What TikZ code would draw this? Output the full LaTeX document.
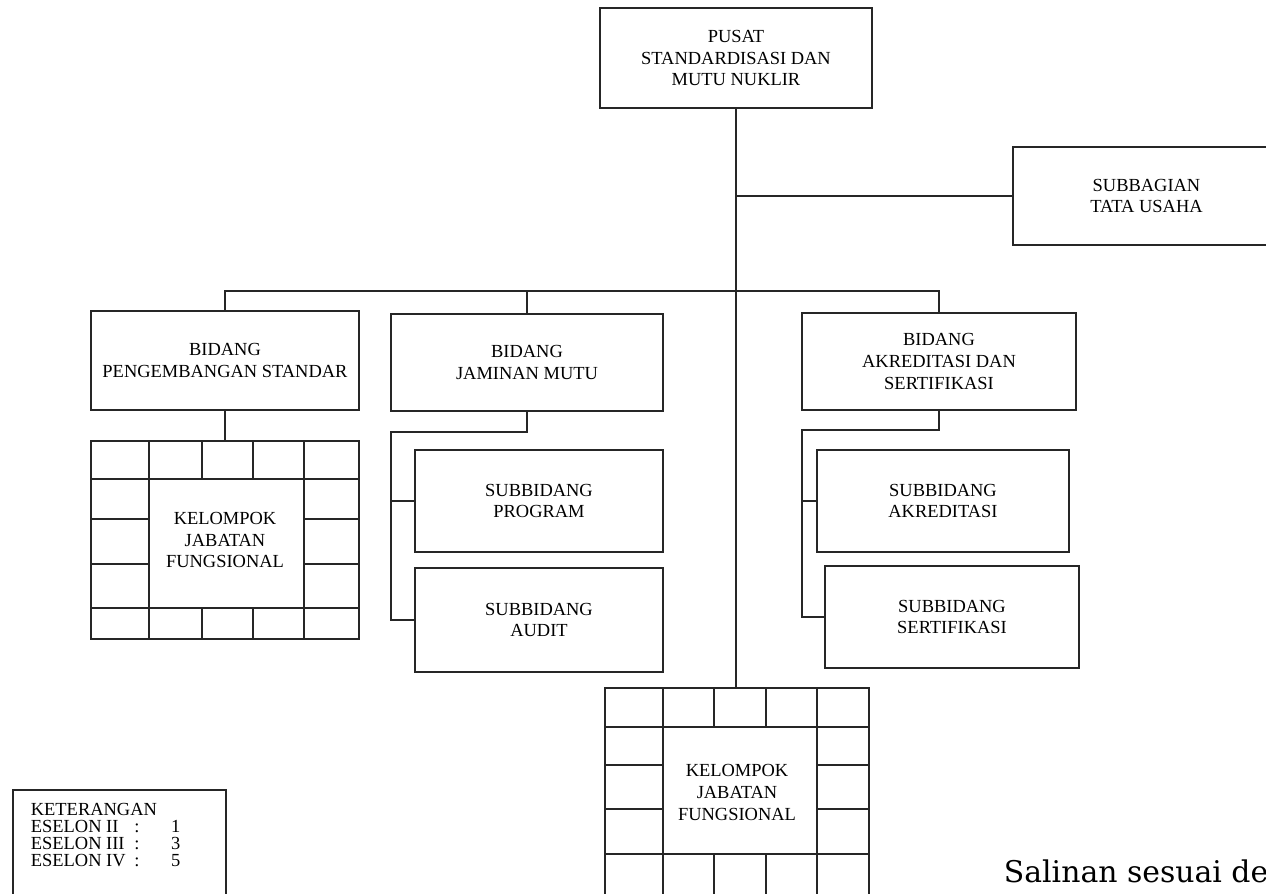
\documentclass[tikz,border=0pt]{standalone}
\usepackage{fontspec}
\setmainfont{Liberation Serif}
\newfontfamily\salinanfont{DejaVu Serif}

\begin{document}
\begin{tikzpicture}[x=0.02cm,y=-0.02cm,line width=1pt,draw=black!85,
  unit/.style={draw,align=center,inner sep=0pt,font=\fontsize{10.5}{12.3}\selectfont},
  wh/.style 2 args={minimum width=#1*0.02cm,minimum height=#2*0.02cm}]
\useasboundingbox (0,0) rectangle (1266,893);
\clip (0,0) rectangle (1266,893);

\node[unit,wh={272}{100}] (pusat) at (736,58) {PUSAT\\STANDARDISASI DAN\\MUTU NUKLIR};
\node[unit,wh={267}{98}] (subbag) at (1146.5,196) {SUBBAGIAN\\TATA USAHA};
\node[unit,wh={268}{99}] (bps) at (225,360.5) {BIDANG\\PENGEMBANGAN STANDAR};
\node[unit,wh={272}{97}] (bjm) at (527,362.5) {BIDANG\\JAMINAN MUTU};
\node[unit,wh={274}{97}] (bas) at (939,361.5) {BIDANG\\AKREDITASI DAN\\SERTIFIKASI};
\node[unit,wh={248}{102}] (prog) at (539,501) {SUBBIDANG\\PROGRAM};
\node[unit,wh={248}{104}] (audit) at (539,620) {SUBBIDANG\\AUDIT};
\node[unit,wh={252}{102}] (akr) at (943,501) {SUBBIDANG\\AKREDITASI};
\node[unit,wh={254}{102}] (sert) at (952,617) {SUBBIDANG\\SERTIFIKASI};
\node[unit,wh={268}{198}] (kelL) at (225,540) {KELOMPOK\\JABATAN\\FUNGSIONAL};
\node[unit,wh={264}{209}] (kelB) at (737,792.5) {KELOMPOK\\JABATAN\\FUNGSIONAL};

\foreach \x in {149,202,253,304} \draw (\x,441) -- (\x,479) (\x,608) -- (\x,639);
\draw (91,479) -- (359,479) (91,608) -- (359,608);
\draw (149,479) -- (149,608) (304,479) -- (304,608);
\foreach \y in {519,564} \draw (91,\y) -- (149,\y) (304,\y) -- (359,\y);

\foreach \x in {663,714,766,817} \draw (\x,688) -- (\x,727) (\x,854) -- (\x,897);
\draw (605,727) -- (869,727) (605,854) -- (869,854);
\draw (663,727) -- (663,854) (817,727) -- (817,854);
\foreach \y in {765,809} \draw (605,\y) -- (663,\y) (817,\y) -- (869,\y);

\coordinate (lvl) at (736,291);
\coordinate (bjmel) at (391,432);
\coordinate (basel) at (802,430);
\draw (pusat.south) -- (pusat.south |- kelB.north);
\draw (pusat.south |- subbag.west) -- (subbag.west);
\draw (bps.north) -- (bps.north |- lvl) -- (bas.north |- lvl) -- (bas.north);
\draw (bjm.north) -- (bjm.north |- lvl);
\draw (bps.south) -- (kelL.north);
\draw (bjm.south) |- (bjmel) -- (bjmel |- audit.west) -- (audit.west);
\draw (bjmel |- prog.west) -- (prog.west);
\draw (bas.south) |- (basel) -- (basel |- sert.west) -- (sert.west);
\draw (basel |- akr.west) -- (akr.west);

\draw (13,790) rectangle (226,900);
\node[anchor=base west,inner sep=0pt,font=\fontsize{10.5}{9.5}\selectfont] (ket) at (30,815)
  {\begin{tabular}[t]{@{}l@{\hspace{5pt}}l@{\hspace{18pt}}l@{}}
   \multicolumn{3}{@{}l}{KETERANGAN}\\
   ESELON II & : & 1\\
   ESELON III & : & 3\\
   ESELON IV & : & 5
   \end{tabular}};
\node[anchor=base west,inner sep=0pt,font=\salinanfont\fontsize{17}{20}\selectfont] (salinan) at (1003,882) {Salinan sesuai de};
\end{tikzpicture}
\end{document}
